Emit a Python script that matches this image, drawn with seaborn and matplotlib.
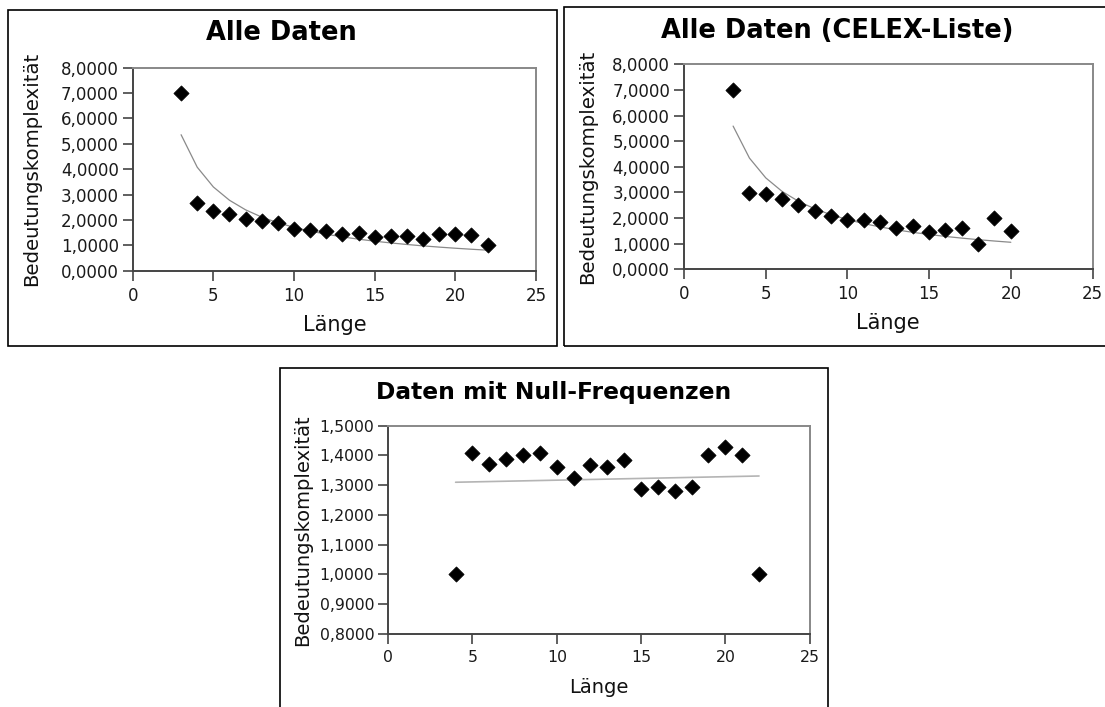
import numpy as np
import pandas as pd
import matplotlib
matplotlib.use("Agg")
import matplotlib.pyplot as plt
from matplotlib.patches import Rectangle
from matplotlib.ticker import FuncFormatter, MultipleLocator
import seaborn as sns

sns.set_theme(style="white")
plt.rcParams["font.family"] = ["DejaVu Sans"]

# --- data -------------------------------------------------------------
laenge_alle = [3, 4, 5, 6, 7, 8, 9, 10, 11, 12, 13, 14, 15, 16, 17, 18, 19, 20, 21, 22]
komplex_alle = [7.00, 2.68, 2.35, 2.25, 2.05, 1.94, 1.87, 1.66, 1.60, 1.56,
                1.43, 1.50, 1.33, 1.37, 1.37, 1.26, 1.46, 1.43, 1.41, 1.00]

laenge_celex = [3, 4, 5, 6, 7, 8, 9, 10, 11, 12, 13, 14, 15, 16, 17, 18, 19, 20]
komplex_celex = [7.00, 2.99, 2.94, 2.74, 2.52, 2.26, 2.09, 1.91, 1.91, 1.85,
                 1.63, 1.69, 1.46, 1.53, 1.60, 1.00, 1.99, 1.51]

laenge_null = [4, 5, 6, 7, 8, 9, 10, 11, 12, 13, 14, 15, 16, 17, 18, 19, 20, 21, 22]
komplex_null = [1.000, 1.407, 1.371, 1.387, 1.403, 1.409, 1.360, 1.324, 1.367, 1.360,
                1.385, 1.286, 1.295, 1.279, 1.295, 1.400, 1.429, 1.400, 1.000]

# trend lines: power y = a * x**b (top panels), linear y = a + b * x (bottom)
trend_alle = [15.2, -0.949]
trend_celex = [14.68, -0.879]
trend_null = [1.3053, 0.001167]

titles = ["Alle Daten", "Alle Daten (CELEX-Liste)", "Daten mit Null-Frequenzen"]
x_label = "Länge"
y_label = "Bedeutungskomplexität"

W, H = 1105, 707
fig = plt.figure(figsize=(W / 100, H / 100), dpi=100)
fig.patch.set_facecolor("white")


def px_axes(x0, y_top, x1, y_bot):
    """Axes placed by pixel coordinates (origin top-left)."""
    return fig.add_axes([x0 / W, 1 - y_bot / H, (x1 - x0) / W, (y_bot - y_top) / H])


def frame(x0, y_top, x1, y_bot):
    fig.patches.append(Rectangle((x0 / W, 1 - y_bot / H), (x1 - x0) / W, (y_bot - y_top) / H,
                                 transform=fig.transFigure, fill=False,
                                 edgecolor="black", linewidth=1.2, zorder=0))


comma_fmt = FuncFormatter(lambda v, p: f"{v:.4f}".replace(".", ","))


def style(ax, ylim, ystep, tick_fs):
    ax.set_xlim(0, 25)
    ax.set_ylim(*ylim)
    ax.xaxis.set_major_locator(MultipleLocator(5))
    ax.yaxis.set_major_locator(MultipleLocator(ystep))
    ax.yaxis.set_major_formatter(comma_fmt)
    for side in ("left", "bottom"):
        ax.spines[side].set_color("#444444")
        ax.spines[side].set_linewidth(1.4)
    for side in ("top", "right"):
        ax.spines[side].set_color("#888888")
        ax.spines[side].set_linewidth(1.4)
    ax.tick_params(axis="both", direction="out", length=7, width=1.2, color="#444444",
                   labelsize=tick_fs, labelcolor="#1a1a1a", bottom=True, left=True)
    ax.tick_params(axis="y", pad=3.0)
    ax.tick_params(axis="x", pad=4.5)
    ax.set_facecolor("white")


def labels(ax, fs_x, fs_y, ylab_x, xlab_y):
    ax.set_xlabel(x_label, fontsize=fs_x, color="#111111")
    ax.set_ylabel(y_label, fontsize=fs_y, color="#111111")
    ax.yaxis.set_label_coords(ylab_x, 0.5)
    ax.xaxis.set_label_coords(0.5, xlab_y)


def scatter(ax, x, y):
    sns.scatterplot(x=x, y=y, ax=ax, marker="D", color="black", s=60,
                    edgecolor="black", linewidth=0.5, zorder=3)


def power_curve(x, coef):
    x = np.asarray(x, dtype=float)
    return x, coef[0] * x ** coef[1]


# --- panel frames -----------------------------------------------------
frame(8, 10, 556.5, 346)
frame(564, 7, 1115, 346)
frame(280, 368, 828, 720)

# --- panel 1 ----------------------------------------------------------
ax1 = px_axes(132.7, 67.7, 536, 270.7)
tx, ty = power_curve(laenge_alle, trend_alle)
sns.lineplot(x=tx, y=ty, ax=ax1, color="#8a8a8a", linewidth=0.9, zorder=2)
scatter(ax1, laenge_alle, komplex_alle)
style(ax1, (0, 8), 1, 12)
labels(ax1, 15, 14.2, -0.227, -0.218)
fig.text(281 / W, 1 - 33.3 / H, titles[0], ha="center", va="center",
         fontsize=18.5, fontweight="bold", color="black")

# --- panel 2 ----------------------------------------------------------
ax2 = px_axes(684.1, 64.3, 1092.5, 269.3)
tx, ty = power_curve(laenge_celex, trend_celex)
sns.lineplot(x=tx, y=ty, ax=ax2, color="#8a8a8a", linewidth=0.9, zorder=2)
scatter(ax2, laenge_celex, komplex_celex)
style(ax2, (0, 8), 1, 12)
labels(ax2, 15, 14.2, -0.213, -0.215)
fig.text(837 / W, 1 - 31 / H, titles[1], ha="center", va="center",
         fontsize=18.5, fontweight="bold", color="black")

# --- panel 3 ----------------------------------------------------------
ax3 = px_axes(388.2, 425.7, 809.6, 634)
lx = np.array([laenge_null[0], laenge_null[-1]], dtype=float)
sns.lineplot(x=lx, y=trend_null[0] + trend_null[1] * lx, ax=ax3,
             color="#b4b4b4", linewidth=1.2, zorder=2)
scatter(ax3, laenge_null, komplex_null)
style(ax3, (0.8, 1.5), 0.1, 11.3)
labels(ax3, 14, 14, -0.181, -0.213)
fig.text(554 / W, 1 - 392 / H, titles[2], ha="center", va="center",
         fontsize=16.8, fontweight="bold", color="black")

fig.savefig("out.png", dpi=100, facecolor="white")
